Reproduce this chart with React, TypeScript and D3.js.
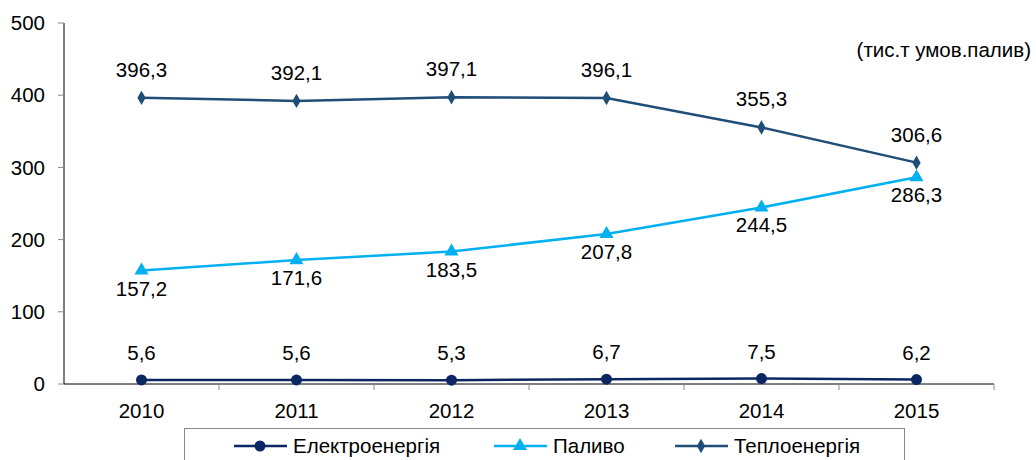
import React from "react";
import * as d3 from "d3";

const years = ["2010", "2011", "2012", "2013", "2014", "2015"];
const electro = [5.6, 5.6, 5.3, 6.7, 7.5, 6.2];
const fuel = [157.2, 171.6, 183.5, 207.8, 244.5, 286.3];
const heat = [396.3, 392.1, 397.1, 396.1, 355.3, 306.6];
const yTicks = [0, 100, 200, 300, 400, 500];

const W = 1036, H = 460;
const left = 64, right = 994, top = 23, bottom = 384;
const font = "'Liberation Sans', Arial, sans-serif";
const FS = 20.5;

const fmt = (v: number) => v.toFixed(1).replace(".", ",");

export default function App() {
  const x = d3.scaleBand<string>().domain(years).range([left, right]);
  const y = d3.scaleLinear().domain([0, 500]).range([bottom, top]);
  const cx = (d: string) => (x(d) as number) + x.bandwidth() / 2;
  const line = d3.line<number>().x((_, i) => cx(years[i])).y((v) => y(v));

  const series = [
    { name: "Електроенергія", data: electro, color: "#0B2763", marker: "circle", labelDy: -20 },
    { name: "Паливо", data: fuel, color: "#00B0F0", marker: "triangle", labelDy: 25 },
    { name: "Теплоенергія", data: heat, color: "#1F4E79", marker: "diamond", labelDy: -21 },
  ];

  const marker = (type: string, px: number, py: number, color: string, key?: any) => {
    if (type === "circle") return <circle key={key} cx={px} cy={py} r={5.5} fill={color} />;
    if (type === "triangle") {
      const s = d3.symbol().type(d3.symbolTriangle).size(85)();
      return <path key={key} d={s as string} transform={`translate(${px},${py})`} fill={color} />;
    }
    const s = d3.symbol().type(d3.symbolDiamond).size(60)();
    return <path key={key} d={s as string} transform={`translate(${px},${py})`} fill={color} />;
  };

  const legendItems = [
    { s: series[0], lx: 234, tx: 293 },
    { s: series[1], lx: 494, tx: 553 },
    { s: series[2], lx: 675, tx: 734 },
  ];

  return (
    <svg width={W} height={H} style={{ position: "absolute", left: 0, top: 0, background: "#fff" }} fontFamily={font}>
      {/* y axis */}
      <line x1={left} x2={left} y1={top} y2={bottom} stroke="#000" strokeWidth={1} />
      {yTicks.map((t) => (
        <g key={t}>
          <line x1={left - 6} x2={left} y1={y(t)} y2={y(t)} stroke="#888" />
          <text x={left - 19} y={y(t)} dy="0.35em" textAnchor="end" fontSize={FS} fill="#000">{t}</text>
        </g>
      ))}
      {/* x axis */}
      <line x1={left} x2={right} y1={bottom} y2={bottom} stroke="#000" strokeWidth={1} />
      {years.map((yr) => (
        <g key={yr}>
          <line x1={(x(yr) as number) + x.bandwidth()} x2={(x(yr) as number) + x.bandwidth()} y1={bottom} y2={bottom + 6} stroke="#888" />
          <text x={cx(yr)} y={bottom + 34} textAnchor="middle" fontSize={FS} fill="#000">{yr}</text>
        </g>
      ))}
      {/* series */}
      {series.map((s) => (
        <g key={s.name}>
          <path d={line(s.data) as string} fill="none" stroke={s.color} strokeWidth={2.5} />
          {s.data.map((v, i) => marker(s.marker, cx(years[i]), y(v), s.color, i))}
          {s.data.map((v, i) => (
            <text key={"l" + i} x={cx(years[i])} y={y(v) + s.labelDy} textAnchor="middle" fontSize={FS} fill="#000">
              {fmt(v)}
            </text>
          ))}
        </g>
      ))}
      {/* unit */}
      <text x={1031} y={57} textAnchor="end" fontSize={FS} fill="#000">(тис.т умов.палив)</text>
      {/* legend */}
      <rect x={184.5} y={428.5} width={720} height={40} fill="#fff" stroke="#888" />
      {legendItems.map(({ s, lx, tx }) => (
        <g key={s.name}>
          <line x1={lx} x2={lx + 53} y1={446} y2={446} stroke={s.color} strokeWidth={2.5} />
          {marker(s.marker, lx + 26, 446, s.color)}
          <text x={tx} y={446} dy="0.35em" fontSize={FS} fill="#000">{s.name}</text>
        </g>
      ))}
    </svg>
  );
}
